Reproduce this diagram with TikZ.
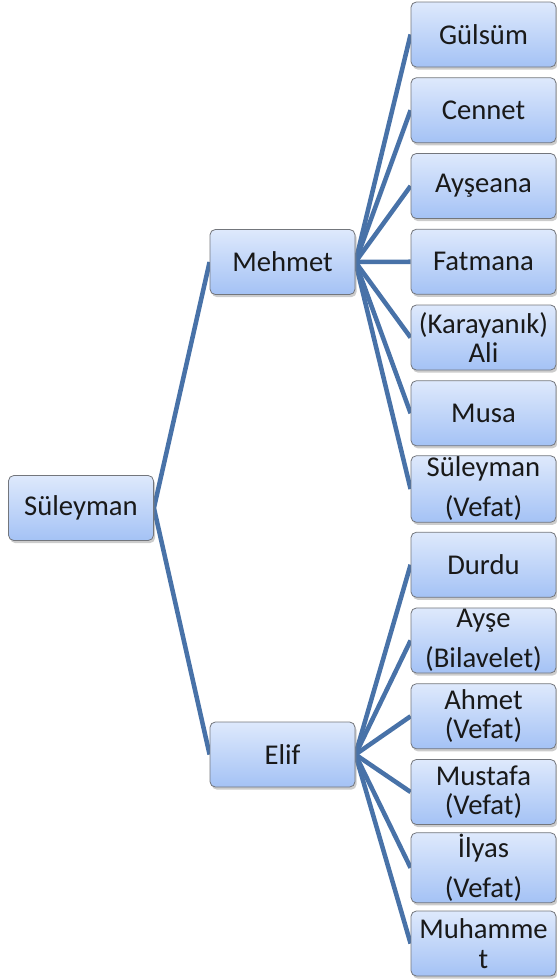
\documentclass[tikz,border=0pt]{standalone}
\usepackage{fontspec}
\setmainfont{Carlito}
\usetikzlibrary{shadows}
\usetikzlibrary{backgrounds}

\definecolor{linkblue}{RGB}{72,114,168}
\definecolor{boxtop}{RGB}{222,233,252}
\definecolor{boxbottom}{RGB}{164,194,245}
\definecolor{boxline}{RGB}{115,118,124}

\begin{document}
\begin{tikzpicture}[x=0.75pt,y=-0.75pt,
  person/.style={rectangle, rounded corners=4pt, draw=boxline, line width=0.6pt,
    top color=boxtop, bottom color=boxbottom, minimum width=108.75pt, minimum height=48.75pt,
    inner sep=1pt, align=center, text=black!90, font=\fontsize{21.5}{22}\selectfont,
    drop shadow={opacity=0.4, shadow xshift=1.2pt, shadow yshift=-2pt}},
  link/.style={draw=linkblue, line width=3.4pt}]

\useasboundingbox (0,0) rectangle (557,979);

% root
\node (suleyman) [person] at (81,508) {Süleyman};

% children
\node (mehmet) [person] at (282.5,262) {Mehmet};
\node (elif) [person] at (282.5,754.5) {Elif};

% grandchildren of Mehmet
\node (gulsum) [person] at (483.5,34.5) {Gülsüm};
\node (cennet) [person] at (483.5,110.25) {Cennet};
\node (ayseana) [person] at (483.5,186) {Ayşeana};
\node (fatmana) [person] at (483.5,261.75) {Fatmana};
\node (ali) [person] at (483.5,337.5) {(Karayanık)\\Ali};
\node (musa) [person] at (483.5,413.25) {Musa};
\node (suleymanv) [person] at (483.5,489) {Süleyman\\[8pt](Vefat)};

% grandchildren of Elif
\node (durdu) [person] at (483.5,564.75) {Durdu};
\node (ayse) [person] at (483.5,640.5) {Ayşe\\[8pt](Bilavelet)};
\node (ahmet) [person] at (483.5,716.25) {Ahmet\\(Vefat)};
\node (mustafa) [person] at (483.5,792) {Mustafa\\(Vefat)};
\node (ilyas) [person] at (483.5,867.75) {İlyas\\[8pt](Vefat)};
\node (muhammet) [person] at (483.5,943.5) {Muhamme\\t};

% links
\begin{scope}[on background layer]
\draw [link] (suleyman.east) -- (mehmet.west);
\draw [link] (suleyman.east) -- (elif.west);
\draw [link] (mehmet.east) -- (gulsum.west);
\draw [link] (mehmet.east) -- (cennet.west);
\draw [link] (mehmet.east) -- (ayseana.west);
\draw [link] (mehmet.east) -- (fatmana.west);
\draw [link] (mehmet.east) -- (ali.west);
\draw [link] (mehmet.east) -- (musa.west);
\draw [link] (mehmet.east) -- (suleymanv.west);
\draw [link] (elif.east) -- (durdu.west);
\draw [link] (elif.east) -- (ayse.west);
\draw [link] (elif.east) -- (ahmet.west);
\draw [link] (elif.east) -- (mustafa.west);
\draw [link] (elif.east) -- (ilyas.west);
\draw [link] (elif.east) -- (muhammet.west);
\end{scope}

\end{tikzpicture}
\end{document}
